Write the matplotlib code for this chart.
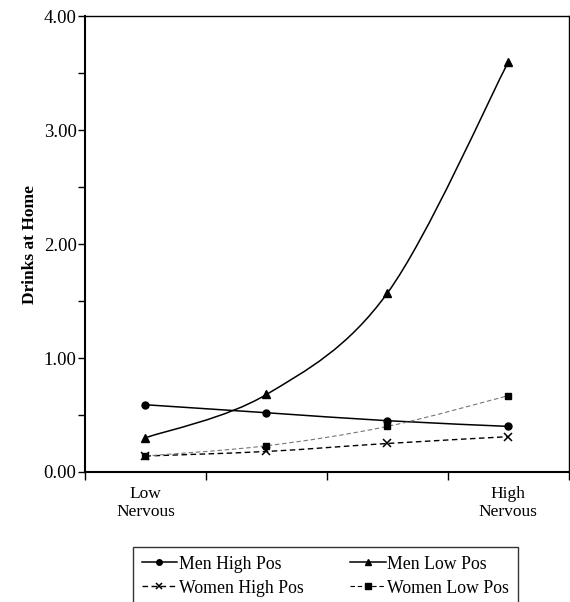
import numpy as np
import matplotlib.pyplot as plt
from matplotlib.path import Path
from matplotlib.patches import PathPatch
from matplotlib.ticker import MultipleLocator, FixedLocator, NullFormatter

plt.rcParams['font.family'] = ['Liberation Serif', 'DejaVu Serif']

# 4 levels of nervousness (low -> high)
levels = [1, 2, 3, 4]
men_high = [0.59, 0.52, 0.45, 0.40]
men_low = [0.30, 0.68, 1.57, 3.60]
women_high = [0.14, 0.18, 0.25, 0.31]
women_low = [0.14, 0.23, 0.40, 0.67]
x_labels = ['Low\nNervous', 'High\nNervous']


def smooth_path(x, y, t=1/6):
    # Excel-style smoothed line as cubic bezier segments through the points
    x = np.asarray(x, float)
    y = np.asarray(y, float)
    n = len(x)
    verts = [(x[0], y[0])]
    codes = [Path.MOVETO]
    for i in range(n - 1):
        p0 = np.array([x[max(i - 1, 0)], y[max(i - 1, 0)]])
        p1 = np.array([x[i], y[i]])
        p2 = np.array([x[i + 1], y[i + 1]])
        p3 = np.array([x[min(i + 2, n - 1)], y[min(i + 2, n - 1)]])
        c1 = p1 + (p2 - p0) * t
        c2 = p2 - (p3 - p1) * t
        verts += [tuple(c1), tuple(c2), tuple(p2)]
        codes += [Path.CURVE4] * 3
    return Path(verts, codes)


fig = plt.figure(figsize=[5.7, 6.02], dpi=100)
ax = fig.add_axes([0.149, 0.216, 0.849, 0.757])

series = [
    (men_high, 'Men High Pos', dict(color='black', ls='-', lw=1.1), dict(marker='o', ms=5)),
    (men_low, 'Men Low Pos', dict(color='black', ls='-', lw=1.1), dict(marker='^', ms=6)),
    (women_high, 'Women High Pos', dict(color='black', ls=(0, (4, 2.5)), lw=1.0), dict(marker='x', ms=6, mew=1.1)),
    (women_low, 'Women Low Pos', dict(color='#777777', ls=(0, (4, 2.5)), lw=0.8), dict(marker='s', ms=5)),
]

handles = {}
for vals, lab, lstyle, mstyle in series:
    patch = PathPatch(smooth_path(levels, vals), fill=False, edgecolor=lstyle['color'],
                      linestyle=lstyle['ls'], linewidth=lstyle['lw'])
    ax.add_patch(patch)
    ax.plot(levels, vals, ls='none', color='black', **mstyle)
    mk = dict(mstyle)
    mk['ms'] = mk['ms'] * 0.8
    h, = ax.plot([], [], color='black', ls=lstyle['ls'], lw=lstyle['lw'], label=lab, **mk)
    handles[lab] = h

ax.set_xlim(0.5, 4.5)
ax.set_ylim(0, 4)
ax.yaxis.set_major_locator(MultipleLocator(1))
ax.yaxis.set_minor_locator(MultipleLocator(0.5))
ax.yaxis.set_major_formatter(plt.FuncFormatter(lambda v, p: '%.2f' % v))
ax.tick_params(axis='y', which='both', direction='out', length=5, width=1, labelsize=13.5, pad=1)
ax.xaxis.set_major_locator(FixedLocator([0.5, 1.5, 2.5, 3.5, 4.5]))
ax.xaxis.set_major_formatter(NullFormatter())
ax.tick_params(axis='x', direction='out', length=6, width=1)
for s in ax.spines.values():
    s.set_linewidth(1.0)
for s in ['left', 'bottom']:
    ax.spines[s].set_linewidth(1.5)

ax.text(1, -0.12, x_labels[0], ha='center', va='top', fontsize=12.5, linespacing=1.2,
        transform=ax.transData)
ax.text(4, -0.12, x_labels[1], ha='center', va='top', fontsize=12.5, linespacing=1.2,
        transform=ax.transData)
ax.set_ylabel('Drinks at Home', fontsize=12.5, fontweight='bold', labelpad=4)

# row-wise order for a 2 column legend
order = ['Men High Pos', 'Women High Pos', 'Men Low Pos', 'Women Low Pos']
leg = fig.legend(handles=[handles[k] for k in order], ncol=2, loc='upper left',
                 bbox_to_anchor=(0.233, 0.092),
                 fontsize=12.8, frameon=True, fancybox=False, edgecolor='black',
                 handlelength=2.0, handletextpad=0.1, columnspacing=2.6,
                 borderpad=0.5, labelspacing=0.4, borderaxespad=0)
leg.get_frame().set_linewidth(1.0)

plt.savefig('out.png', dpi=100)
